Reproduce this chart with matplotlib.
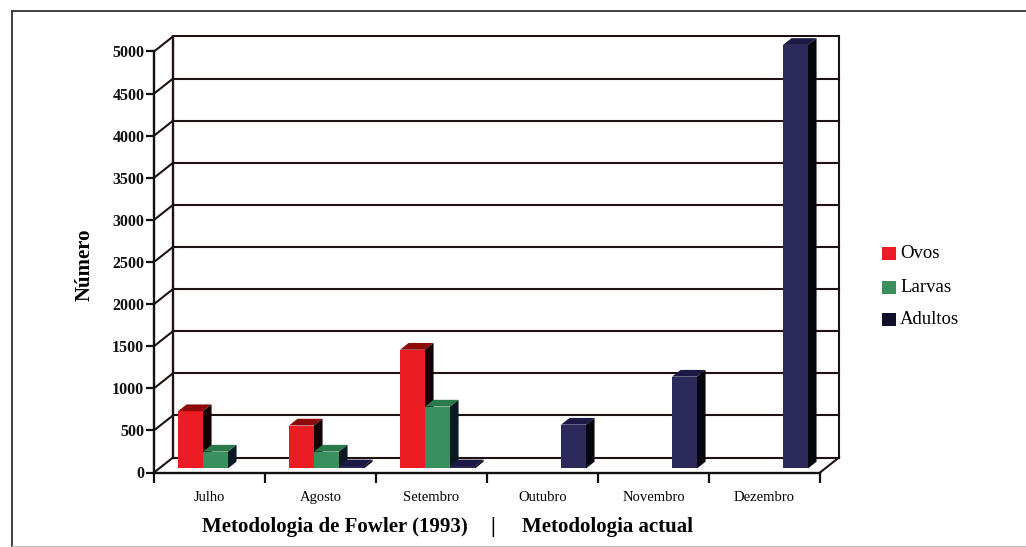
import matplotlib
matplotlib.use("Agg")
import matplotlib.pyplot as plt
from matplotlib.patches import Polygon, Rectangle
from matplotlib.lines import Line2D
import numpy as np

# ---------------- data ----------------
months = ["Julho", "Agosto", "Setembro", "Outubro", "Novembro", "Dezembro"]
series_names = ["Ovos", "Larvas", "Adultos"]
ovos = [680, 510, 1410, 0, 0, 0]
larvas = [200, 200, 735, 0, 0, 0]
adultos = [0, 25, 25, 520, 1090, 5030]
yticks = [0, 500, 1000, 1500, 2000, 2500, 3000, 3500, 4000, 4500, 5000]

# ---------------- style ----------------
plt.rcParams['font.family'] = ['Liberation Serif', 'DejaVu Serif']
front_cols = ['#EC1C24', '#3A8F5E', '#2C2A5A']
top_cols = ['#8E0B0B', '#2A7A4A', '#1C1A44']
side_cols = ['#140202', '#0B1A22', '#06060F']
grid_col = '#1E1212'

W, H = 1026, 547
fig = plt.figure(figsize=(W / 100, H / 100), dpi=100)

# pixel geometry of the plot
x0_px, y0_px = 154, 472.5
cat_px = 111
px_per_unit = 421 / 5000.0
XMAX, YMAX = 6.2, 5200
ax = fig.add_axes([x0_px / W, (H - y0_px) / H,
                   XMAX * cat_px / W, YMAX * px_per_unit / H])
ax.set_xlim(0, XMAX)
ax.set_ylim(0, YMAX)
ax.patch.set_visible(False)

DX = 19 / cat_px           # depth offset in category units
DY = 15 / px_per_unit      # depth offset in value units
ncat = len(months)
top_val = yticks[-1]

# back wall grid and 3D frame
for v in yticks:
    ax.plot([0, DX], [v, v + DY], color=grid_col, lw=1.5, zorder=1, solid_capstyle='butt')
    ax.plot([DX, ncat + DX], [v + DY, v + DY], color=grid_col, lw=1.5, zorder=1)
ax.plot([DX, DX], [DY, top_val + DY], color=grid_col, lw=1.7, zorder=1)
ax.plot([ncat + DX, ncat + DX], [DY, top_val + DY], color=grid_col, lw=1.5, zorder=1)
ax.plot([ncat, ncat + DX], [0, DY], color=grid_col, lw=1.5, zorder=1)

# bars
f0 = 0.27      # depth fraction of bar front
bd = 0.45      # bar depth fraction
bw = 25 / cat_px
lead = 24 / cat_px
data = [ovos, larvas, adultos]
z = 3
for i in range(ncat):
    for j in range(3):
        v = data[j][i]
        if v <= 0:
            continue
        xl = i + lead + j * bw
        b = f0 * DY
        ax.bar(xl, v, width=bw, bottom=b, align='edge', color=front_cols[j],
               edgecolor='none', zorder=z)
        ddx, ddy = bd * DX, bd * DY
        top = Polygon([(xl, b + v), (xl + bw, b + v), (xl + bw + ddx, b + v + ddy),
                       (xl + ddx, b + v + ddy)], closed=True, facecolor=top_cols[j],
                      edgecolor='none', zorder=z)
        side = Polygon([(xl + bw, b), (xl + bw + ddx, b + ddy), (xl + bw + ddx, b + v + ddy),
                        (xl + bw, b + v)], closed=True, facecolor=side_cols[j],
                       edgecolor='none', zorder=z)
        ax.add_patch(top)
        ax.add_patch(side)
        z += 1

# axes / ticks
for s in ['top', 'right']:
    ax.spines[s].set_visible(False)
ax.spines['left'].set_bounds(0, top_val)
ax.spines['bottom'].set_bounds(0, ncat)
for s in ['left', 'bottom']:
    ax.spines[s].set_linewidth(1.7)
    ax.spines[s].set_color('#111111')
    ax.spines[s].set_zorder(50)
ax.set_yticks(yticks)
ax.set_yticklabels([str(t) for t in yticks], fontsize=11.5, fontweight='bold')
ax.tick_params(axis='y', direction='out', length=6, width=1.6, pad=1, colors='#111111')
ax.set_xticks(np.arange(ncat + 1))
ax.set_xticklabels([])
ax.set_xticks(np.arange(ncat) + 0.5, minor=True)
ax.set_xticklabels(months, minor=True, fontsize=10.5)
ax.tick_params(axis='x', which='major', direction='out', length=7, width=1.6, colors='#111111')
ax.tick_params(axis='x', which='minor', length=0, pad=13)

# legend (manual)
leg_y = [253, 287, 319]
for j, name in enumerate(series_names):
    fig.add_artist(Rectangle((882 / W, (H - leg_y[j] - 7) / H), 14 / W, 13 / H,
                             transform=fig.transFigure, facecolor=front_cols[j] if j < 2 else '#10102A',
                             edgecolor='none'))
    fig.text(900 / W, (H - leg_y[j]) / H, name, fontsize=13.5, va='center', ha='left')

# axis titles
fig.text(85 / W, (H - 265) / H, "Número", rotation=90, fontsize=15, fontweight='bold',
         ha='center', va='center')
ty = (H - 527) / H
fig.text(468 / W, ty, "Metodologia de Fowler (1993)", fontsize=15, fontweight='bold',
         ha='right', va='center')
fig.text(493 / W, ty, "|", fontsize=15, fontweight='bold', ha='center', va='center')
fig.text(522 / W, ty, "Metodologia actual", fontsize=15, fontweight='bold',
         ha='left', va='center')

# outer frame
fig.add_artist(Line2D([12 / W, 12 / W], [0, (H - 11) / H], transform=fig.transFigure,
                      color='#333333', lw=1.3))
fig.add_artist(Line2D([12 / W, 1], [(H - 11) / H, (H - 11) / H], transform=fig.transFigure,
                      color='#333333', lw=1.3))
fig.add_artist(Line2D([12 / W, 1], [1.0 / H, 1.0 / H], transform=fig.transFigure,
                      color='#BBBBBB', lw=0.8))

fig.savefig("out.png", dpi=100)
